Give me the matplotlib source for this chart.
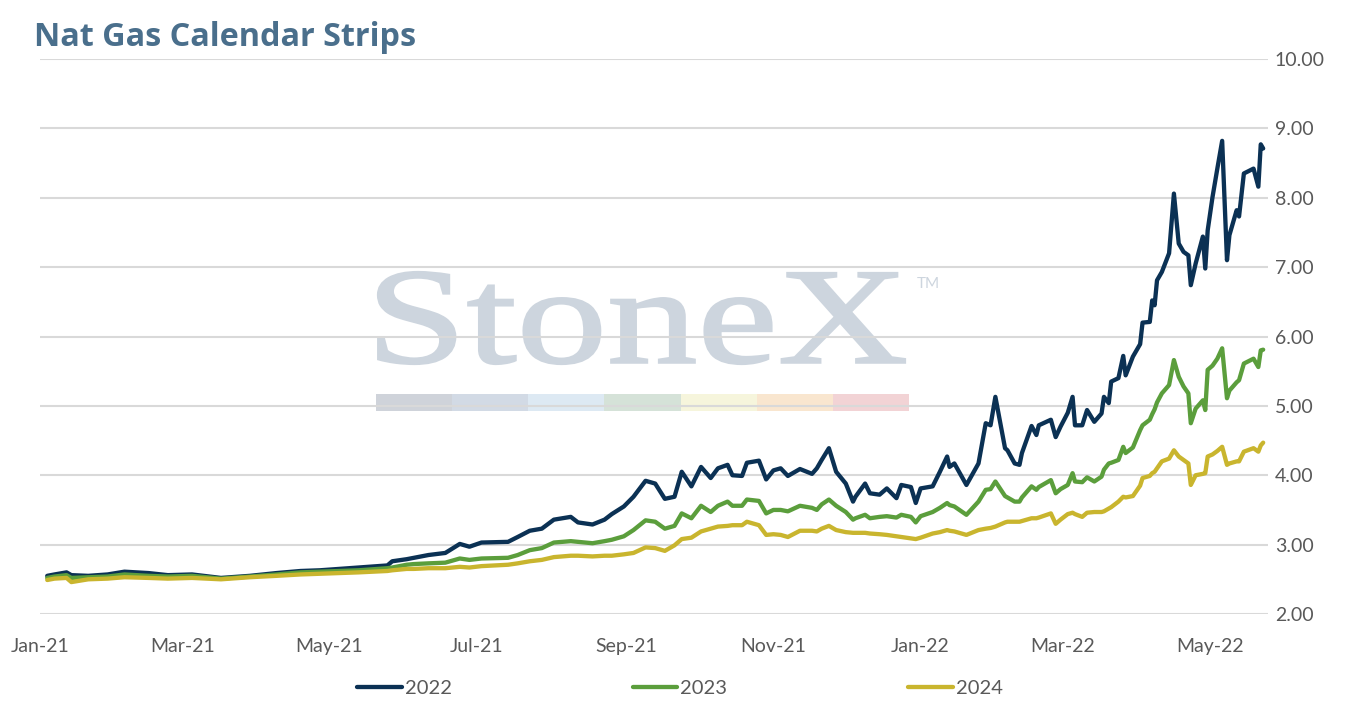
import pandas as pd
import matplotlib.pyplot as plt
import matplotlib.dates as mdates
from matplotlib.textpath import TextPath
from matplotlib.font_manager import FontProperties
from matplotlib.patches import PathPatch, Rectangle
from matplotlib.transforms import Affine2D, IdentityTransform

# ===== Data =====
dates = [
    "2021-01-04", "2021-01-07", "2021-01-12", "2021-01-14", "2021-01-21", "2021-01-29", "2021-02-05",
    "2021-02-15", "2021-02-23", "2021-03-05", "2021-03-17", "2021-03-29", "2021-04-09", "2021-04-19",
    "2021-04-27", "2021-05-05", "2021-05-13", "2021-05-25", "2021-05-27", "2021-06-02", "2021-06-05",
    "2021-06-11", "2021-06-18", "2021-06-24", "2021-06-28", "2021-07-03", "2021-07-14", "2021-07-18",
    "2021-07-23", "2021-07-28", "2021-08-02", "2021-08-09", "2021-08-12", "2021-08-18", "2021-08-23",
    "2021-08-26", "2021-08-31", "2021-09-04", "2021-09-09", "2021-09-13", "2021-09-17", "2021-09-21",
    "2021-09-24", "2021-09-28", "2021-10-02", "2021-10-06", "2021-10-09", "2021-10-13", "2021-10-15",
    "2021-10-19", "2021-10-21", "2021-10-26", "2021-10-29", "2021-11-01", "2021-11-04", "2021-11-07",
    "2021-11-12", "2021-11-17", "2021-11-19", "2021-11-21", "2021-11-24", "2021-11-27", "2021-12-01",
    "2021-12-04", "2021-12-05", "2021-12-09", "2021-12-11", "2021-12-15", "2021-12-18", "2021-12-22",
    "2021-12-24", "2021-12-28", "2021-12-30", "2022-01-01", "2022-01-06", "2022-01-09", "2022-01-12",
    "2022-01-13", "2022-01-15", "2022-01-20", "2022-01-25", "2022-01-28", "2022-01-30", "2022-02-01",
    "2022-02-05", "2022-02-06", "2022-02-09", "2022-02-11", "2022-02-12", "2022-02-16", "2022-02-18",
    "2022-02-19", "2022-02-24", "2022-02-26", "2022-02-28", "2022-03-03", "2022-03-05", "2022-03-06",
    "2022-03-09", "2022-03-11", "2022-03-14", "2022-03-17", "2022-03-18", "2022-03-20", "2022-03-21",
    "2022-03-24", "2022-03-26", "2022-03-27", "2022-03-30", "2022-04-02", "2022-04-03", "2022-04-06",
    "2022-04-07", "2022-04-08", "2022-04-09", "2022-04-11", "2022-04-14", "2022-04-16", "2022-04-18",
    "2022-04-20", "2022-04-22", "2022-04-23", "2022-04-25", "2022-04-28", "2022-04-29", "2022-04-30",
    "2022-05-02", "2022-05-04", "2022-05-06", "2022-05-08", "2022-05-09", "2022-05-12", "2022-05-13",
    "2022-05-15", "2022-05-19", "2022-05-21", "2022-05-22", "2022-05-23",
]
strip_2022 = [
    2.55, 2.57, 2.60, 2.56, 2.55, 2.57, 2.61, 2.59, 2.56, 2.57, 2.52, 2.55, 2.59, 2.62,
    2.63, 2.65, 2.67, 2.70, 2.76, 2.79, 2.81, 2.85, 2.88, 3.01, 2.97, 3.03, 3.04, 3.11,
    3.20, 3.23, 3.36, 3.40, 3.32, 3.29, 3.36, 3.44, 3.55, 3.69, 3.92, 3.88, 3.66, 3.69,
    4.05, 3.84, 4.12, 3.96, 4.10, 4.15, 4.00, 3.99, 4.18, 4.21, 3.94, 4.07, 4.10, 3.99,
    4.09, 4.02, 4.10, 4.22, 4.39, 4.05, 3.88, 3.62, 3.69, 3.88, 3.74, 3.72, 3.81, 3.67,
    3.86, 3.83, 3.60, 3.81, 3.84, 4.05, 4.27, 4.12, 4.17, 3.86, 4.17, 4.75, 4.72, 5.13,
    4.39, 4.36, 4.17, 4.15, 4.32, 4.71, 4.58, 4.72, 4.80, 4.55, 4.70, 4.90, 5.13, 4.72,
    4.72, 4.94, 4.77, 4.89, 5.13, 5.04, 5.35, 5.40, 5.72, 5.44, 5.71, 5.89, 6.20, 6.21,
    6.52, 6.45, 6.81, 6.93, 7.20, 8.06, 7.34, 7.22, 7.17, 6.74, 7.05, 7.44, 6.98, 7.53,
    8.01, 8.42, 8.82, 7.10, 7.46, 7.82, 7.73, 8.35, 8.42, 8.16, 8.77, 8.71,
]
strip_2023 = [
    2.52, 2.54, 2.56, 2.52, 2.53, 2.54, 2.57, 2.55, 2.54, 2.55, 2.51, 2.54, 2.57, 2.60,
    2.61, 2.62, 2.63, 2.66, 2.67, 2.71, 2.72, 2.73, 2.74, 2.80, 2.78, 2.80, 2.81, 2.85,
    2.92, 2.95, 3.03, 3.05, 3.04, 3.02, 3.05, 3.07, 3.12, 3.21, 3.35, 3.33, 3.23, 3.27,
    3.45, 3.38, 3.56, 3.47, 3.56, 3.62, 3.56, 3.56, 3.65, 3.63, 3.45, 3.50, 3.50, 3.48,
    3.56, 3.53, 3.50, 3.58, 3.65, 3.56, 3.47, 3.36, 3.38, 3.43, 3.38, 3.40, 3.41, 3.39,
    3.43, 3.40, 3.32, 3.41, 3.47, 3.53, 3.60, 3.57, 3.55, 3.43, 3.62, 3.79, 3.80, 3.91,
    3.70, 3.68, 3.62, 3.62, 3.68, 3.84, 3.79, 3.83, 3.93, 3.74, 3.80, 3.86, 4.03, 3.91,
    3.90, 3.97, 3.91, 3.98, 4.08, 4.17, 4.18, 4.22, 4.41, 4.32, 4.40, 4.65, 4.72, 4.80,
    4.88, 4.95, 5.05, 5.18, 5.30, 5.66, 5.42, 5.28, 5.18, 4.75, 4.96, 5.08, 4.94, 5.52,
    5.58, 5.68, 5.83, 5.11, 5.22, 5.34, 5.37, 5.61, 5.68, 5.56, 5.80, 5.81,
]
strip_2024 = [
    2.49, 2.51, 2.52, 2.46, 2.50, 2.51, 2.53, 2.52, 2.51, 2.52, 2.50, 2.53, 2.55, 2.57,
    2.58, 2.59, 2.60, 2.62, 2.63, 2.65, 2.65, 2.66, 2.66, 2.68, 2.67, 2.69, 2.71, 2.73,
    2.76, 2.78, 2.82, 2.84, 2.84, 2.83, 2.84, 2.84, 2.86, 2.88, 2.96, 2.95, 2.91, 2.99,
    3.08, 3.10, 3.19, 3.23, 3.26, 3.27, 3.28, 3.28, 3.33, 3.28, 3.14, 3.15, 3.14, 3.11,
    3.20, 3.20, 3.19, 3.23, 3.27, 3.21, 3.18, 3.17, 3.17, 3.17, 3.16, 3.15, 3.14, 3.12,
    3.11, 3.09, 3.08, 3.10, 3.16, 3.18, 3.21, 3.20, 3.19, 3.14, 3.21, 3.23, 3.24, 3.26,
    3.32, 3.33, 3.33, 3.33, 3.34, 3.38, 3.38, 3.39, 3.45, 3.30, 3.36, 3.44, 3.46, 3.44,
    3.40, 3.46, 3.47, 3.47, 3.48, 3.52, 3.54, 3.62, 3.69, 3.68, 3.70, 3.85, 3.96, 3.99,
    4.03, 4.05, 4.10, 4.20, 4.24, 4.36, 4.27, 4.22, 4.17, 3.86, 4.00, 4.02, 4.03, 4.27,
    4.30, 4.35, 4.41, 4.15, 4.17, 4.20, 4.20, 4.34, 4.39, 4.34, 4.43, 4.47,
]
series_names = ["2022", "2023", "2024"]
series_colors = ["#0b3154", "#5b9e3c", "#c9b52e"]

plt.rcParams['font.family'] = ['Lato', 'DejaVu Sans']
x = pd.to_datetime(dates)

fig = plt.figure(figsize=(13.5, 7.07), dpi=100)
ax = fig.add_axes([40 / 1350, 1 - 614 / 707, 1228 / 1350, 555 / 707])

# watermark (drawn under the gridlines)
prop = FontProperties(family="Liberation Serif")
tp = TextPath((0, 0), "StoneX", prop=prop, size=100)
bb = tp.get_extents()
sx = (905 - 378) / bb.width
sy = (364 - 272) / bb.height
tr = Affine2D().translate(-bb.x0, -bb.y0).scale(sx, sy).translate(378, 707 - 364)
wm = PathPatch(tr.transform_path(tp), facecolor="#cdd5de", edgecolor="#cdd5de", lw=1.6,
               transform=IdentityTransform(), zorder=0.1)
ax.add_artist(wm)
fig.text(917 / 1350, 1 - 284 / 707, "TM", color="#cdd5de", fontsize=11, va="center", ha="left")
bar_colors = ["#cfd3da", "#d2dae5", "#dde9f3", "#d5e2d8", "#f6f5dc", "#f9e6cf", "#f2d3d5"]
seg = (909 - 376) / len(bar_colors)
for i, c in enumerate(bar_colors):
    r = Rectangle((376 + i * seg, 707 - 411), seg, 17, facecolor=c, edgecolor="none",
                  transform=IdentityTransform(), zorder=0.1)
    ax.add_artist(r)

for vals, name, col in zip([strip_2022, strip_2023, strip_2024], series_names, series_colors):
    ax.plot(x, vals, color=col, lw=3.1, label=name, solid_joinstyle="round",
            solid_capstyle="round", zorder=3)

ax.set_ylim(2, 10)
ax.set_yticks(range(2, 11))
ax.yaxis.set_major_formatter(plt.FormatStrFormatter("%.2f"))
ax.yaxis.tick_right()
ax.set_xlim(pd.Timestamp("2021-01-01"), pd.Timestamp("2022-05-25"))
ax.xaxis.set_major_locator(mdates.MonthLocator(bymonth=[1, 3, 5, 7, 9, 11]))
ax.xaxis.set_major_formatter(mdates.DateFormatter("%b-%y"))
ax.tick_params(axis="both", length=0, labelsize=14, colors="#595959")
ax.tick_params(axis="x", pad=17)
ax.tick_params(axis="y", pad=5)
ax.grid(axis="y", color="#d9d9d9", lw=1.5)
ax.set_axisbelow(True)
for s in ax.spines.values():
    s.set_visible(False)

fig.text(34 / 1350, 1 - 37 / 707, "Nat Gas Calendar Strips", fontsize=23.3, fontweight="bold",
         family=["Open Sans", "DejaVu Sans"], color="#4a6f8c", va="center", ha="left")

fig.legend(loc="center", bbox_to_anchor=(680 / 1350, 1 - 688 / 707), ncol=3, frameon=False,
           fontsize=14.5, labelcolor="#595959", handlelength=2.2, handletextpad=0.15,
           columnspacing=9.0)

fig.savefig("out.png", dpi=100)
